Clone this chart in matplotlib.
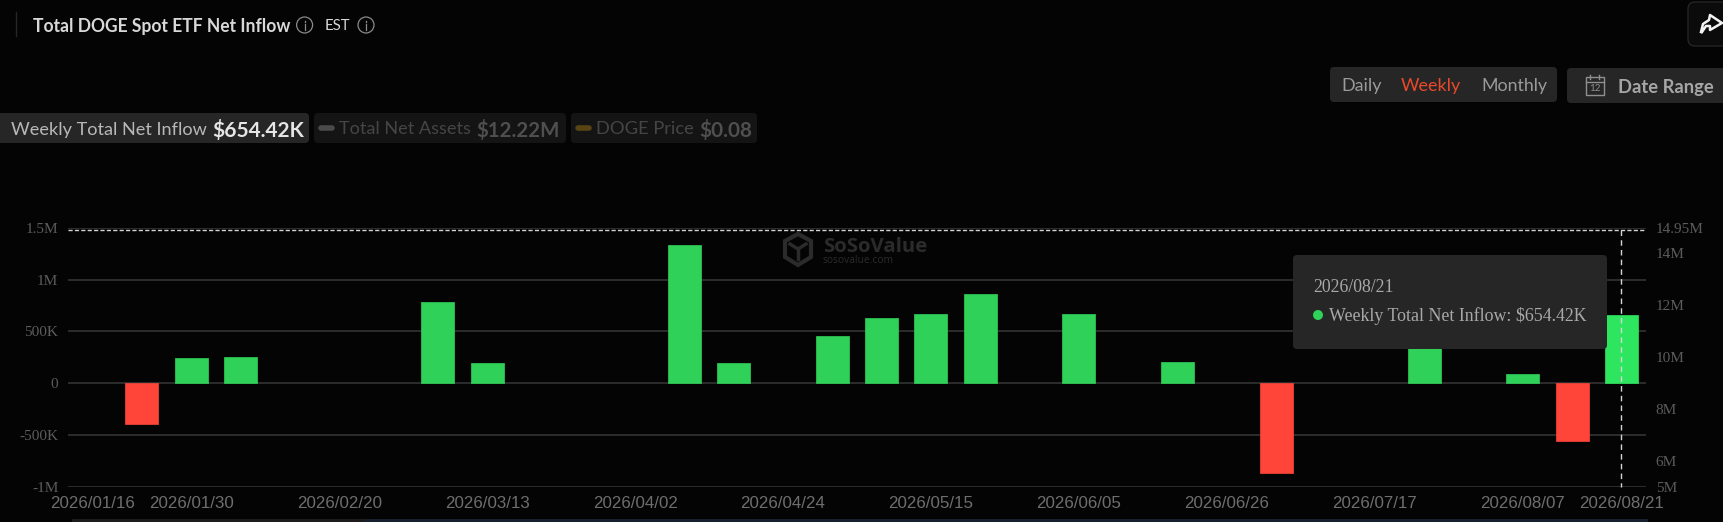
import matplotlib
matplotlib.use("Agg")
import matplotlib.pyplot as plt
from matplotlib.patches import FancyBboxPatch, Circle, Rectangle, Polygon

W, H = 1723, 522
BG = "#040404"
NO_DATA = float("nan")

weeks = ["01/16","01/23","01/30","02/06","02/13","02/20","02/27","03/06","03/13","03/20","03/27",
         "04/02","04/10","04/17","04/24","05/01","05/08","05/15","05/22","05/29","06/05","06/12",
         "06/18","06/26","07/02","07/10","07/17","07/24","07/31","08/07","08/14","08/21"]
net_inflow_m = [NO_DATA, -0.40, 0.245, 0.255, NO_DATA, NO_DATA, NO_DATA, 0.78, 0.195, NO_DATA, NO_DATA,
                NO_DATA, 1.34, 0.19, NO_DATA, 0.46, 0.63, 0.668, 0.865, NO_DATA, 0.668, NO_DATA,
                0.20, NO_DATA, -0.868, NO_DATA, NO_DATA, 0.60, NO_DATA, 0.085, -0.56, 0.654]
x_tick_weeks = ["01/16","01/30","02/20","03/13","04/02","04/24","05/15","06/05","06/26","07/17","08/07","08/21"]
left_ticks = [-1.0, -0.5, 0, 0.5, 1.0, 1.5]
left_labels = ["-1M", "-500K", "0", "500K", "1M", "1.5M"]
right_ticks = [5, 6, 8, 10, 12, 14, 14.95]
right_labels = ["5M", "6M", "8M", "10M", "12M", "14M", "14.95M"]

GREEN, GREEN_HI, RED = "#30D158", "#2EE55F", "#FF453A"

fig = plt.figure(figsize=(W/100, H/100), dpi=100, facecolor=BG)
def overlay(z):
    a = fig.add_axes([0, 0, 1, 1], zorder=z)
    a.set_xlim(0, W); a.set_ylim(H, 0); a.axis("off"); a.patch.set_alpha(0)
    return a
back, front = overlay(0), overlay(3)

L, R, T, B = 68, 1646, 228, 486.5
ax = fig.add_axes([L/W, 1-B/H, (R-L)/W, (B-T)/H], zorder=1)
ax.patch.set_alpha(0)
xs = list(range(len(weeks)))
colors = [RED if v < 0 else GREEN for v in net_inflow_m]
colors[-1] = GREEN_HI
bars = ax.bar(xs, net_inflow_m, width=0.67, color=colors, edgecolor=colors, linewidth=0.5, zorder=3)
for b in bars:
    b.set_joinstyle("round")
ax.set_xlim(-0.5, len(weeks)-0.5)
ax.set_ylim(-1.0, 1.5)
ax.set_yticks(left_ticks, left_labels, family="Liberation Serif", fontsize=11, color="#5c5c5c")
ax.set_xticks([weeks.index(w) for w in x_tick_weeks], ["2026/"+w for w in x_tick_weeks],
              family="Liberation Sans", fontsize=12.2, color="#6e6e6e")
ax.tick_params(axis="both", length=0)
ax.tick_params(axis="y", pad=7)
ax.tick_params(axis="x", pad=7)
ax.grid(axis="y", color="#333333", linewidth=1.2, zorder=1)
for s in ax.spines.values():
    s.set_visible(False)
axr = ax.twinx()
axr.patch.set_alpha(0)
axr.set_ylim(5, 14.95)
axr.set_yticks(right_ticks, right_labels, family="Liberation Serif", fontsize=11, color="#5c5c5c")
axr.tick_params(axis="y", length=0, pad=7)
for s in axr.spines.values():
    s.set_visible(False)

def box(a, x0, y0, x1, y1, fc, r=4, ec="none", lw=0, z=1):
    a.add_patch(FancyBboxPatch((x0+r, y0+r), x1-x0-2*r, y1-y0-2*r,
                               boxstyle=f"round,pad={r},rounding_size={r}",
                               fc=fc, ec=ec, lw=lw, zorder=z))

def fit(a, x0, x1, y, s, color, family="Lato", weight="normal", z=5):
    t = a.text(x0, y, s, color=color, family=family, weight=weight, va="center_baseline", ha="left", fontsize=12, zorder=z)
    r = fig.canvas.get_renderer()
    w = t.get_window_extent(r).width
    t.set_fontsize(12*(x1-x0)/w)
    return t

def info(a, cx, cy, rad=8):
    a.add_patch(Circle((cx, cy), rad, fc="none", ec="#8a8a8a", lw=0.9))
    a.plot([cx, cx], [cy-1, cy+4.5], color="#8a8a8a", lw=0.9)
    a.plot([cx, cx], [cy-4, cy-3], color="#8a8a8a", lw=0.9)

# header
back.plot([16, 16], [12, 36], color="#262626", lw=1)
fit(back, 32.6, 290, 25, "Total DOGE Spot ETF Net Inflow", "#d8d8d8", weight="bold")
info(back, 304.6, 25)
fit(back, 324.5, 350, 25, "EST", "#d8d8d8")
info(back, 366, 25)

# legend chips
box(back, -6, 113, 309, 143, "#262626")
box(back, 314, 113, 566, 143, "#141414")
box(back, 571, 113, 757, 143, "#141414")
fit(back, 11, 207, 128, "Weekly Total Net Inflow", "#b8b8b8")
fit(back, 212, 304, 128, "$654.42K", "#e6e6e6", weight="bold")
back.plot([321, 332], [128, 128], color="#4a4a4a", lw=4, solid_capstyle="round")
fit(back, 339, 470, 128, "Total Net Assets", "#454545")
fit(back, 476.5, 560, 128, "$12.22M", "#4f4f4f", weight="bold")
back.plot([578, 589], [128, 128], color="#5a4412", lw=4, solid_capstyle="round")
fit(back, 596, 694, 128, "DOGE Price", "#454545")
fit(back, 699, 752, 128, "$0.08", "#4f4f4f", weight="bold")

# period buttons
box(back, 1330, 67, 1557, 102, "#262626")
fit(back, 1341, 1381, 85, "Daily", "#9a9a9a")
fit(back, 1401, 1461, 85, "Weekly", "#E8492A")
fit(back, 1481, 1547, 85, "Monthly", "#9a9a9a")
box(back, 1567, 68, 1735, 103, "#262626")
fit(back, 1618, 1713, 86, "Date Range", "#a6a6a6", weight="bold")
back.add_patch(Rectangle((1585.5, 77), 18, 17.5, fc="none", ec="#8f8f8f", lw=1, zorder=5))
back.plot([1585.5, 1603.5], [81.5, 81.5], color="#8f8f8f", lw=1, zorder=5)
back.plot([1590, 1590], [75, 79], color="#8f8f8f", lw=1, zorder=5)
back.plot([1599, 1599], [75, 79], color="#8f8f8f", lw=1, zorder=5)
back.text(1594.5, 88.5, "12", color="#8f8f8f", fontsize=7, family="Lato", ha="center", va="center", zorder=6)

# share button
box(back, 1688, 2, 1745, 46, "#0b0b0b", r=7, ec="#242424", lw=1)
back.plot([1701, 1703, 1709, 1710, 1722, 1710, 1710, 1706, 1702], [32, 24, 20, 15, 23, 30, 26, 26, 32],
          color="#f2f2f2", lw=1.8, solid_joinstyle="round")

# watermark
hexa = Polygon([(798, 234), (811, 241), (811, 257), (798, 265), (785, 257), (785, 241)],
               closed=True, fc="none", ec="#2b2b2b", lw=3, zorder=1)
back.add_patch(hexa)
back.plot([790, 798, 806], [244, 249, 244], color="#2b2b2b", lw=2.5)
back.plot([798, 798], [249, 259], color="#2b2b2b", lw=2.5)
fit(back, 823, 927, 245, "SoSoValue", "#2b2b2b", family="Open Sans", weight="bold", z=1)
fit(back, 823, 893, 259, "sosovalue.com", "#2b2b2b", family="Open Sans", z=1)

# bottom scrollbar
back.add_patch(Rectangle((72, 518.5), 293, 4, fc="#1c1c1c", ec="none"))
back.add_patch(Rectangle((365, 518.5), 1283, 4, fc="#16202e", ec="none"))

# crosshair
front.plot([L, R], [229.7, 229.7], color="#d4d4d4", lw=1, ls=(0, (3, 1.6)))
front.plot([1621, 1621], [229.7, 487], color="#d4d4d4", lw=1, ls=(0, (4, 3)))

# tooltip
box(front, 1293, 255, 1607, 349, "#262626", z=4)
front.text(1313, 288, "2026/08/21", family="Liberation Serif", fontsize=12.75, color="#a8a8a8", va="center", ha="left", zorder=5)
front.add_patch(Circle((1318, 315), 5, fc=GREEN, ec="none", zorder=5))
fit(front, 1329, 1587, 314, "Weekly Total Net Inflow: $654.42K", "#a8a8a8", family="Liberation Serif")

fig.savefig("out.png", dpi=100, facecolor=BG)
